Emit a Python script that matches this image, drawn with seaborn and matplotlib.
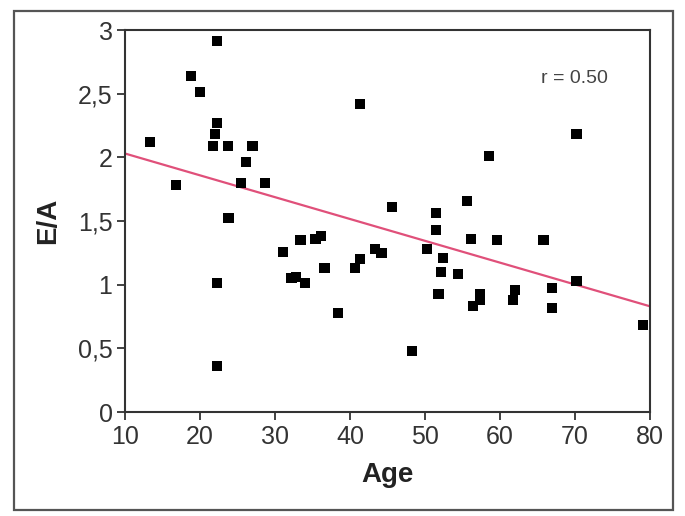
import matplotlib
matplotlib.use("Agg")
import matplotlib.pyplot as plt
import seaborn as sns
import pandas as pd
from matplotlib.patches import Rectangle
from matplotlib.ticker import FuncFormatter

age = [13.3, 16.8, 18.75, 20.0, 22.3, 22.3, 22.0, 21.7, 23.7, 22.3, 22.3, 23.8,
       26.1, 27.0, 25.5, 28.7, 31.1, 32.2, 32.8, 33.4, 34.0, 35.4, 36.1, 36.6,
       38.4, 40.7, 41.3, 41.3, 43.3, 44.2, 45.6, 48.3, 50.3, 51.5, 51.5, 52.4,
       52.1, 51.8, 54.4, 55.6, 56.1, 56.4, 57.3, 57.3, 58.5, 59.6, 61.7, 62.0,
       65.8, 66.9, 66.9, 70.2, 70.2, 79.1]
ea = [2.12, 1.78, 2.64, 2.51, 2.91, 2.27, 2.18, 2.09, 2.09, 1.01, 0.36, 1.52,
      1.96, 2.09, 1.80, 1.80, 1.26, 1.05, 1.06, 1.35, 1.01, 1.36, 1.38, 1.13,
      0.78, 1.13, 1.20, 2.42, 1.28, 1.25, 1.61, 0.48, 1.28, 1.56, 1.43, 1.21,
      1.10, 0.93, 1.08, 1.66, 1.36, 0.83, 0.93, 0.88, 2.01, 1.35, 0.88, 0.96,
      1.35, 0.97, 0.82, 2.18, 1.03, 0.68]
fit_age = [10, 80]
fit_ea = [2.03, 0.83]
x_ticks = [10, 20, 30, 40, 50, 60, 70, 80]
y_ticks = [0, 0.5, 1, 1.5, 2, 2.5, 3]
annotation = "r = 0.50"

df = pd.DataFrame({"Age": age, "E/A": ea})
fit_df = pd.DataFrame({"Age": fit_age, "E/A": fit_ea})

sns.set_style("white")
plt.rcParams["font.family"] = ["Liberation Sans", "DejaVu Sans"]

fig = plt.figure(figsize=(6.85, 5.16), dpi=100)
ax = fig.add_axes([125 / 685, 1 - 412 / 516, (650 - 125) / 685, (412 - 30) / 516])

sns.lineplot(data=fit_df, x="Age", y="E/A", ax=ax, color="#e0507a", lw=1.6, zorder=2)
sns.scatterplot(data=df, x="Age", y="E/A", ax=ax, marker="s", s=52,
                color="black", edgecolor="none", alpha=1, zorder=3)

ax.set_xlim(10, 80)
ax.set_ylim(0, 3)
ax.set_xticks(x_ticks)
ax.set_yticks(y_ticks)
ax.yaxis.set_major_formatter(FuncFormatter(lambda v, p: f"{v:g}".replace(".", ",")))
ax.tick_params(axis="both", direction="out", length=6, width=1.3, labelsize=18,
               colors="#333333", labelcolor="#333333", bottom=True, left=True, pad=3)
for sp in ax.spines.values():
    sp.set_color("#333333")
    sp.set_linewidth(1.5)

ax.set_xlabel("Age", fontsize=20, fontweight="bold", color="#222222", labelpad=10)
ax.set_ylabel("E/A", fontsize=20, fontweight="bold", color="#222222", labelpad=12)

ax.text(0.857, 0.872, annotation, transform=ax.transAxes, fontsize=14,
        color="#444444", ha="center", va="center")

fig.patches.append(Rectangle((14 / 685, 1 - 510 / 516), (673 - 14) / 685, (510 - 11) / 516,
                             transform=fig.transFigure, fill=False,
                             edgecolor="#555555", linewidth=1.6))

fig.savefig("out.png", dpi=100)
